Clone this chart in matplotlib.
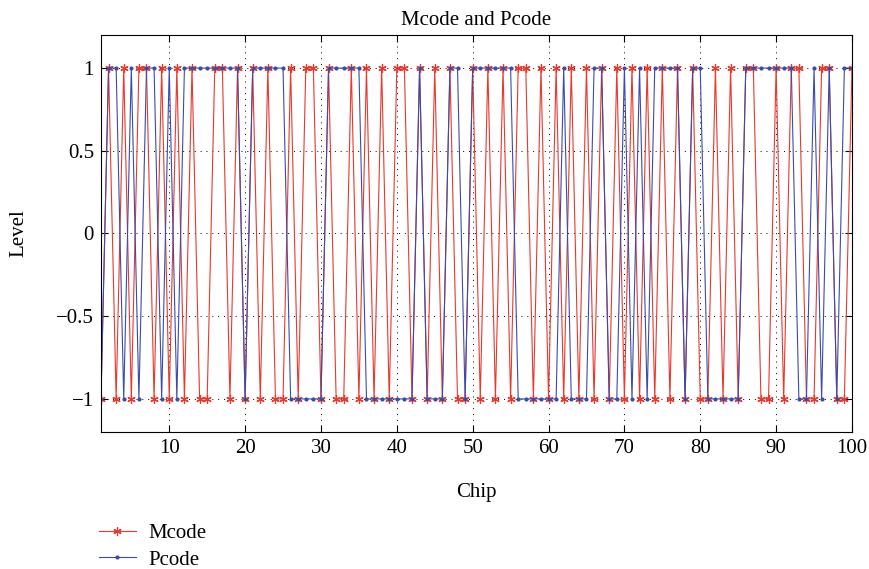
import matplotlib
matplotlib.use("Agg")
import matplotlib.pyplot as plt
import numpy as np

chips = list(range(1, 101))
mcode = [-1, 1, -1, 1, -1, 1, 1, -1, 1, -1,
         1, -1, 1, -1, -1, 1, 1, -1, 1, -1,
         1, -1, 1, -1, -1, 1, -1, 1, 1, -1,
         1, -1, -1, 1, -1, 1, -1, 1, -1, 1,
         1, -1, 1, -1, 1, -1, 1, -1, -1, 1,
         -1, 1, -1, 1, -1, 1, 1, -1, 1, -1,
         1, -1, 1, -1, 1, -1, 1, -1, 1, -1,
         1, -1, 1, -1, 1, -1, 1, -1, 1, -1,
         -1, 1, -1, 1, -1, 1, 1, -1, -1, 1,
         -1, 1, 1, -1, -1, 1, 1, -1, -1, 1]
pcode = [-1, 1, 1, -1, 1, -1, 1, 1, -1, 1,
         -1, 1, 1, 1, 1, 1, 1, 1, 1, -1,
         1, 1, 1, 1, 1, -1, -1, -1, -1, -1,
         1, 1, 1, 1, 1, -1, -1, -1, -1, -1,
         -1, -1, 1, -1, -1, -1, 1, 1, -1, 1,
         1, 1, 1, 1, 1, -1, -1, -1, -1, -1,
         -1, 1, -1, -1, -1, 1, 1, -1, -1, 1,
         -1, 1, -1, 1, 1, 1, 1, -1, 1, 1,
         -1, -1, -1, -1, -1, 1, 1, 1, 1, 1,
         1, 1, -1, -1, 1, -1, 1, -1, 1, 1]
xticks = list(range(10, 101, 10))
yticks = [-1, -0.5, 0, 0.5, 1]
ytick_labels = ["\u22121", "\u22120.5", "0", "0.5", "1"]

plt.rcParams['font.family'] = ['Liberation Serif', 'DejaVu Serif']
plt.rcParams['font.size'] = 15

fig = plt.figure(figsize=(8.69, 5.69), dpi=100)
ax = fig.add_axes([0.1162, 0.2408, 0.8642, 0.6977])

red = '#e8392c'
blue = '#3b4bab'
l1, = ax.plot(chips, mcode, color=red, lw=0.8, marker=(6, 2, 0), ms=6,
              markeredgewidth=0.9, label='Mcode')
l2, = ax.plot(chips, pcode, color=blue, lw=0.8, marker='.', ms=4,
              label='Pcode')

ax.set_xlim(1, 100)
ax.set_ylim(-1.2, 1.2)
ax.set_xticks(xticks)
ax.set_yticks(yticks)
ax.set_yticklabels(ytick_labels)
ax.tick_params(direction='in', top=True, right=True, length=5, width=0.8,
               labelsize=15, pad=5)
ax.grid(True, color='black', linestyle=(0, (1, 5)), linewidth=0.7)
for s in ax.spines.values():
    s.set_linewidth(0.8)

ax.set_title('Mcode and Pcode', fontsize=15, pad=7)
ax.set_xlabel('Chip', fontsize=15, labelpad=18)
ax.set_ylabel('Level', fontsize=15, labelpad=20)

fig.legend(handles=[l1, l2], loc='upper left', bbox_to_anchor=(0.104, 0.095),
           frameon=False, fontsize=15, handlelength=1.8, handletextpad=0.6,
           labelspacing=0.35, borderaxespad=0)

fig.savefig('out.png', dpi=100)
